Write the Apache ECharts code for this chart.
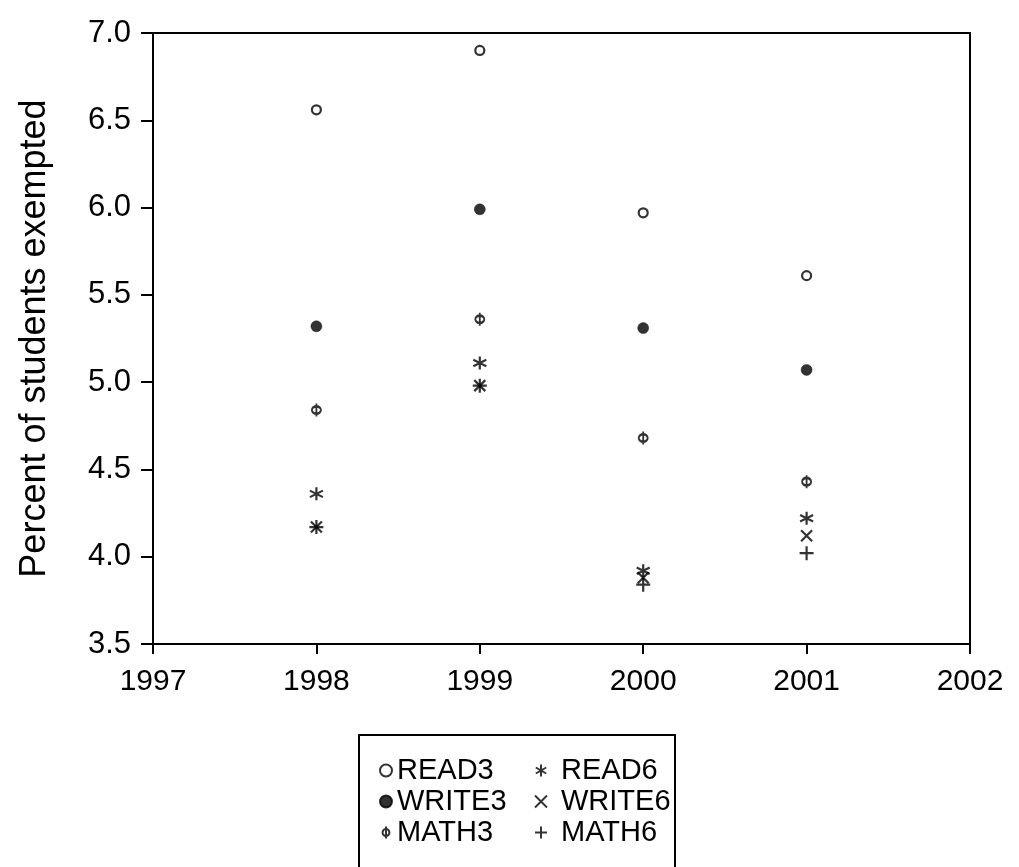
<!DOCTYPE html>
<html>
<head>
<meta charset="utf-8">
<script src="https://cdn.jsdelivr.net/npm/echarts@6/dist/echarts.min.js"></script>
<style>html,body{margin:0;padding:0;background:#fff}#c{width:1019px;height:867px}</style>
</head>
<body>
<div id="c"></div>
<script>
const years = [1998, 1999, 2000, 2001];
const READ3 = [6.56, 6.90, 5.97, 5.61];
const WRITE3 = [5.32, 5.99, 5.31, 5.07];
const MATH3 = [4.84, 5.36, 4.68, 4.43];
const READ6 = [4.36, 5.11, 3.92, 4.22];
const WRITE6 = [4.17, 4.98, 3.88, 4.12];
const MATH6 = [4.17, 4.98, 3.84, 4.02];
const xTicks = [1997, 1998, 1999, 2000, 2001, 2002];
const yTicks = [3.5, 4.0, 4.5, 5.0, 5.5, 6.0, 6.5, 7.0];

const FONT = '"Liberation Sans", Arial, sans-serif';
const pts = arr => years.map((y, i) => [y, arr[i]]);

const SYM = {
  phi: 'path://M5,0L5,14M1,7A4,4,0,1,0,9,7A4,4,0,1,0,1,7',
  aster: 'path://M5,0L5,10M0.67,2.5L9.33,7.5M0.67,7.5L9.33,2.5',
  cross: 'path://M0,0L10,10M10,0L0,10',
  plus: 'path://M5,0L5,10M0,5L10,5'
};
const lineStyle = {color: 'rgba(0,0,0,0)', borderColor: '#000', borderWidth: 2.2};

const series = [
  {name: 'READ3', data: pts(READ3), symbol: 'circle', symbolSize: 9,
   itemStyle: {color: '#fff', borderColor: '#000', borderWidth: 2.2}},
  {name: 'WRITE3', data: pts(WRITE3), symbol: 'circle', symbolSize: 11,
   itemStyle: {color: '#000', borderColor: '#000', borderWidth: 0.5}},
  {name: 'MATH3', data: pts(MATH3), symbol: SYM.phi, symbolSize: [9, 13], itemStyle: lineStyle},
  {name: 'READ6', data: pts(READ6), symbol: SYM.aster, symbolSize: 13, itemStyle: lineStyle},
  {name: 'WRITE6', data: pts(WRITE6), symbol: SYM.cross, symbolSize: 11, itemStyle: lineStyle},
  {name: 'MATH6', data: pts(MATH6), symbol: SYM.plus, symbolSize: 14, itemStyle: lineStyle}
].map(s => Object.assign({type: 'scatter', emphasis: {disabled: true}, symbolKeepAspect: false}, s));

const legendCommon = {
  orient: 'vertical', top: 750, itemGap: 0, itemWidth: 12, itemHeight: 12,
  symbolKeepAspect: true, selectedMode: false,
  itemStyle: {borderWidth: 2},
  textStyle: {fontFamily: FONT, fontSize: 29, color: '#000', lineHeight: 31}
};

const chart = echarts.init(document.getElementById('c'), null, {renderer: 'canvas'});
chart.setOption({
  animation: false,
  backgroundColor: '#fff',
  grid: {left: 153, right: 49, top: 33, bottom: 223, show: true, borderColor: '#000', borderWidth: 2, backgroundColor: 'transparent'},
  xAxis: {
    type: 'value', min: xTicks[0], max: xTicks[xTicks.length - 1], interval: 1,
    axisLine: {lineStyle: {color: '#000', width: 2}},
    axisTick: {show: true, length: 10, lineStyle: {color: '#000', width: 2}},
    axisLabel: {fontFamily: FONT, fontSize: 30, color: '#000', margin: 23, formatter: v => String(v)},
    splitLine: {show: false}
  },
  yAxis: {
    type: 'value', min: yTicks[0], max: yTicks[yTicks.length - 1], interval: 0.5,
    name: 'Percent of students exempted', nameLocation: 'middle', nameGap: 100,
    nameTextStyle: {fontFamily: FONT, fontSize: 36, color: '#000'},
    axisLine: {lineStyle: {color: '#000', width: 2}},
    axisTick: {show: true, length: 12, lineStyle: {color: '#000', width: 2}},
    axisLabel: {fontFamily: FONT, fontSize: 31, color: '#000', margin: 22, formatter: v => v.toFixed(1)},
    splitLine: {show: false}
  },
  legend: [
    Object.assign({}, legendCommon, {left: 374, data: ['READ3', 'WRITE3', 'MATH3']}),
    Object.assign({}, legendCommon, {left: 529, itemWidth: 30, data: ['READ6', 'WRITE6', 'MATH6']})
  ],
  graphic: [{
    type: 'rect', left: 358, top: 734, z: -1,
    shape: {width: 316, height: 200},
    style: {fill: '#fff', stroke: '#000', lineWidth: 2}
  }],
  series: series
});
</script>
</body>
</html>
